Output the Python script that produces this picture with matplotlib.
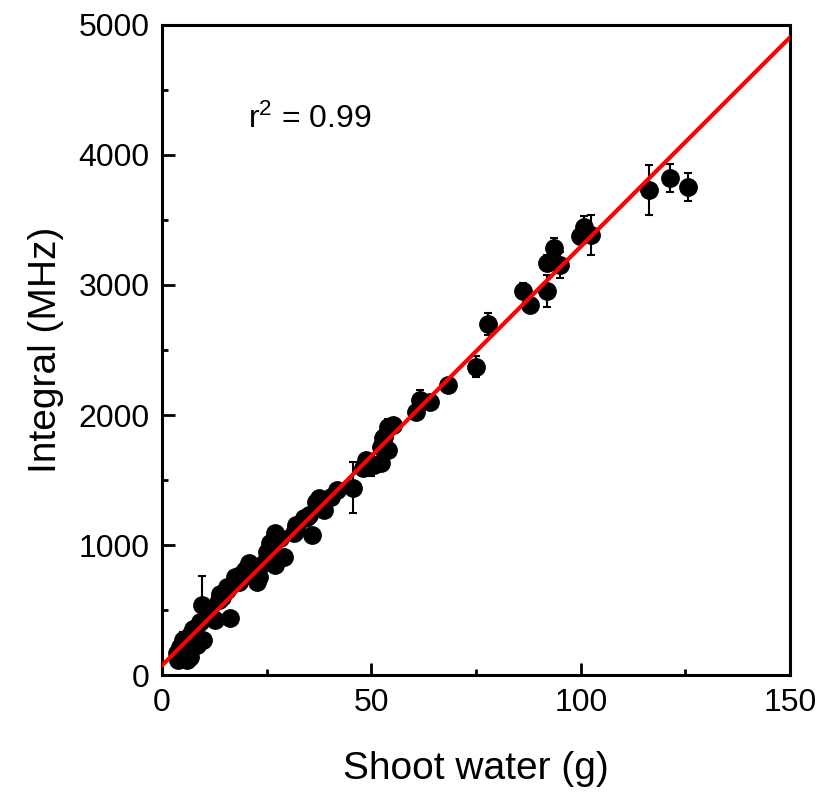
import numpy as np
import matplotlib.pyplot as plt

plt.rcParams['font.family'] = ['Liberation Sans', 'DejaVu Sans']
plt.rcParams['mathtext.fontset'] = 'custom'
plt.rcParams['mathtext.rm'] = 'Liberation Sans'
plt.rcParams['mathtext.it'] = 'Liberation Sans'

# shoot water (g), integral (MHz), error (MHz)
shoot_water = [3.5, 3.9, 4.3, 5.1, 5.9, 6.7, 6.7, 7.5, 8.3, 9.1,
               9.5, 9.9, 11.5, 12.7, 13.5, 13.9, 14.3, 15.5, 15.5, 16.3,
               17.5, 18.3, 18.7, 19.9, 20.7, 22.7, 23.1, 24.3, 25.1, 25.9,
               27.1, 27.1, 28.3, 29.1, 31.5, 31.9, 31.9, 33.9, 34.7, 35.1,
               35.9, 36.7, 37.5, 38.6, 40.3, 41.9, 45.5, 47.9, 49.9, 50.6,
               48.7, 52.3, 52.3, 52.7, 53.0, 53.9, 53.9, 55.1, 60.7, 61.5,
               63.9, 68.2, 75.1, 77.8, 86.1, 87.8, 91.9, 91.9, 93.5, 95.0,
               99.8, 100.7, 102.5, 116.3, 121.4, 125.5]
integral = [167, 115, 218, 269, 115, 141, 308, 359, 231, 410,
            540, 269, 474, 423, 577, 628, 600, 654, 679, 436,
            756, 718, 769, 808, 859, 718, 756, 859, 948, 1013,
            846, 1090, 1051, 910, 1090, 1154, 1128, 1205, 1218, 1231,
            1077, 1333, 1359, 1269, 1372, 1423, 1442, 1590, 1615, 1615,
            1654, 1631, 1756, 1820, 1833, 1731, 1910, 1923, 2026, 2115,
            2103, 2231, 2372, 2700, 2956, 2846, 2956, 3169, 3283, 3154,
            3377, 3449, 3385, 3731, 3823, 3754]
err = [40, 30, 50, 60, 30, 30, 40, 40, 30, 40,
       220, 40, 40, 40, 40, 40, 30, 40, 40, 40,
       40, 40, 40, 40, 40, 40, 40, 40, 40, 40,
       40, 40, 40, 40, 40, 40, 40, 40, 40, 40,
       40, 40, 40, 40, 40, 40, 197, 40, 80, 40,
       40, 40, 40, 40, 40, 40, 60, 40, 40, 80,
       40, 40, 80, 85, 60, 40, 123, 60, 80, 100,
       60, 80, 155, 195, 110, 110]

# linear fit shown in red
fit_intercept = 75
fit_slope = 32.2
fit_x = np.array([0, 150])

fig = plt.figure(figsize=(8.18, 8.0), dpi=100)
ax = fig.add_axes([0.198, 0.156, 0.768, 0.813])

ax.errorbar(shoot_water, integral, yerr=err, fmt='o', color='black',
            markersize=12.5, ecolor='black', elinewidth=1.5, capsize=3,
            capthick=1.5, zorder=2)
ax.plot(fit_x, fit_intercept + fit_slope * fit_x, color='red', lw=3, zorder=3)

ax.text(20.6, 4210, r'r$^2$ = 0.99', fontsize=23)

ax.set_xlim(0, 150)
ax.set_ylim(0, 5000)
ax.set_xticks([0, 50, 100, 150])
ax.set_xticks([25, 75, 125], minor=True)
ax.set_yticks([0, 1000, 2000, 3000, 4000, 5000])
ax.set_yticks([500, 1500, 2500, 3500, 4500], minor=True)
ax.tick_params(which='both', direction='in', width=2, labelsize=23)
ax.tick_params(which='major', length=9, pad=9)
ax.tick_params(which='minor', length=4)
for s in ax.spines.values():
    s.set_linewidth(2.2)

ax.set_xlabel('Shoot water (g)', fontsize=28, labelpad=24)
ax.set_ylabel('Integral (MHz)', fontsize=28, labelpad=10)

fig.savefig('out.png', dpi=100)
